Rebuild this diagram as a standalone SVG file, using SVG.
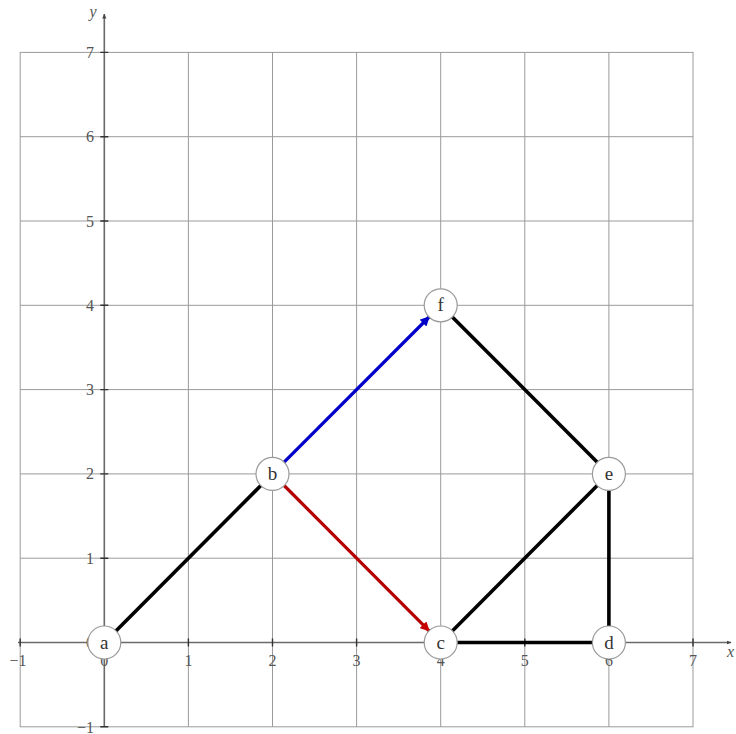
<svg xmlns="http://www.w3.org/2000/svg" width="736" height="734" viewBox="0 0 736 734">
<style>
.grid{stroke:#9a9a9a;stroke-width:1;fill:none}
.axis{stroke:#6a6a6a;stroke-width:1.6;fill:none}
.tick{stroke:#333;stroke-width:1.4}
.tl{font-family:"Liberation Serif",serif;font-size:16px;fill:#555}
.node circle{fill:#fff;stroke:#9a9a9a;stroke-width:1.2}
.node text{font-family:"Liberation Serif",serif;font-size:19px;fill:#333;text-anchor:middle}
.e{stroke:#000;stroke-width:3.6;fill:none}
</style>
<defs>
<marker id="ab" viewBox="0 0 10 10" refX="9" refY="5" markerWidth="3" markerHeight="3" orient="auto" markerUnits="strokeWidth"><path d="M0,0 L10,5 L0,10 z" fill="#0000c8"/></marker>
<marker id="ar" viewBox="0 0 10 10" refX="9" refY="5" markerWidth="3" markerHeight="3" orient="auto" markerUnits="strokeWidth"><path d="M0,0 L10,5 L0,10 z" fill="#c80000"/></marker>
<marker id="ax" viewBox="0 0 10 10" refX="9" refY="5" markerWidth="5" markerHeight="5" orient="auto" markerUnits="userSpaceOnUse"><path d="M0,1 L10,5 L0,9 z" fill="#444"/></marker>
</defs>
<g id="grid">
<rect class="grid" x="20.2" y="52.4" width="672.8" height="674.4"/>
<path class="grid" d="M188.4,52.4V726.8M272.5,52.4V726.8M356.6,52.4V726.8M440.7,52.4V726.8M524.8,52.4V726.8M608.9,52.4V726.8M20.2,558.2H693M20.2,473.9H693M20.2,389.6H693M20.2,305.3H693M20.2,221H693M20.2,136.7H693"/>
</g>
<g id="axes">
<line class="axis" x1="18" y1="642.5" x2="731" y2="642.5" marker-end="url(#ax)"/>
<line class="axis" x1="104.3" y1="727" x2="104.3" y2="14" marker-end="url(#ax)"/>
<path class="tick" d="M20.2,638.5V646.5M104.3,638.5V646.5M188.4,638.5V646.5M272.5,638.5V646.5M356.6,638.5V646.5M440.7,638.5V646.5M524.8,638.5V646.5M608.9,638.5V646.5M693,638.5V646.5M100.3,726.8H108.3M100.3,558.2H108.3M100.3,473.9H108.3M100.3,389.6H108.3M100.3,305.3H108.3M100.3,221H108.3M100.3,136.7H108.3M100.3,52.4H108.3"/>
<g class="tl" text-anchor="middle">
<text x="18" y="666">−1</text>
<text x="104.3" y="666">0</text>
<text x="188.4" y="666">1</text>
<text x="272.5" y="666">2</text>
<text x="356.6" y="666">3</text>
<text x="440.7" y="666">4</text>
<text x="524.8" y="666">5</text>
<text x="608.9" y="666">6</text>
<text x="693" y="666">7</text>
</g>
<g class="tl" text-anchor="end">
<text x="94" y="732.5">−1</text>
<text x="94" y="648">0</text>
<text x="94" y="563.7">1</text>
<text x="94" y="479.4">2</text>
<text x="94" y="395.1">3</text>
<text x="94" y="310.8">4</text>
<text x="94" y="226.5">5</text>
<text x="94" y="142.2">6</text>
<text x="94" y="57.9">7</text>
</g>
<text class="tl" x="93" y="17" font-style="italic" text-anchor="middle">y</text>
<text class="tl" x="727" y="657" font-style="italic" font-size="14">x</text>
</g>
<g id="edges">
<line class="e" x1="115.9" y1="630.9" x2="260.9" y2="485.5"/>
<line class="e" x1="452.3" y1="317" x2="597.3" y2="462.2"/>
<line class="e" x1="608.9" y1="490.4" x2="608.9" y2="626"/>
<line class="e" x1="452.3" y1="630.9" x2="597.3" y2="485.5"/>
<line class="e" x1="457.2" y1="642.5" x2="592.4" y2="642.5" stroke-width="5"/>
<line x1="284.1" y1="462.2" x2="429.1" y2="317" stroke="#0000c8" stroke-width="3.2" marker-end="url(#ab)"/>
<line x1="284.1" y1="485.5" x2="429.1" y2="630.9" stroke="#b40000" stroke-width="3.2" marker-end="url(#ar)"/>
</g>
<g id="node-a" class="node"><circle cx="104.3" cy="642.5" r="16.5"/><text x="104.3" y="648.5">a</text></g>
<g id="node-b" class="node"><circle cx="272.5" cy="473.9" r="16.5"/><text x="272.5" y="479.9">b</text></g>
<g id="node-c" class="node"><circle cx="440.7" cy="642.5" r="16.5"/><text x="440.7" y="648.5">c</text></g>
<g id="node-d" class="node"><circle cx="608.9" cy="642.5" r="16.5"/><text x="608.9" y="648.5">d</text></g>
<g id="node-e" class="node"><circle cx="608.9" cy="473.9" r="16.5"/><text x="608.9" y="479.9">e</text></g>
<g id="node-f" class="node"><circle cx="440.7" cy="305.3" r="16.5"/><text x="440.7" y="311.3">f</text></g>
</svg>
